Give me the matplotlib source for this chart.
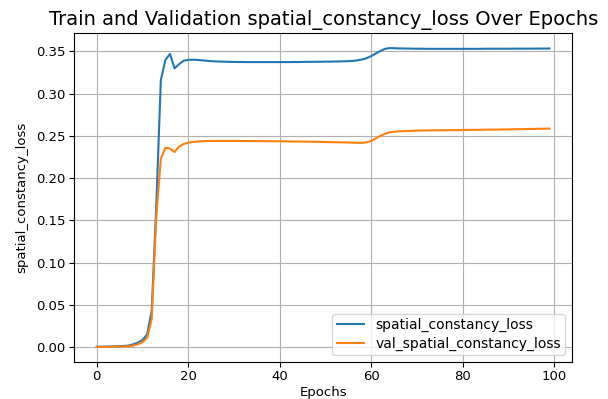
import numpy as np
import matplotlib
matplotlib.use("Agg")
import matplotlib.pyplot as plt

# valores, epoca 0..99
train_loss = [
    0.0005, 0.0006, 0.0007, 0.0008, 0.0010, 0.0012, 0.0015, 0.0020, 0.0035, 0.0055,
    0.0085, 0.0150, 0.0430, 0.1660, 0.3160, 0.3400, 0.3470, 0.3300, 0.3350, 0.3390,
    0.3400, 0.3402, 0.3400, 0.3395, 0.3390, 0.3385, 0.3382, 0.3380, 0.3378, 0.3377,
    0.3376, 0.3375, 0.3375, 0.3374, 0.3374, 0.3374, 0.3374, 0.3374, 0.3374, 0.3374,
    0.3374, 0.3374, 0.3374, 0.3375, 0.3375, 0.3376, 0.3377, 0.3377, 0.3378, 0.3378,
    0.3379, 0.3380, 0.3381, 0.3382, 0.3383, 0.3385, 0.3388, 0.3395, 0.3405, 0.3420,
    0.3445, 0.3475, 0.3505, 0.3530, 0.3540, 0.3538, 0.3536, 0.3535, 0.3534, 0.3533,
    0.3532, 0.3532, 0.3531, 0.3531, 0.3531, 0.3531, 0.3531, 0.3531, 0.3531, 0.3531,
    0.3531, 0.3531, 0.3531, 0.3531, 0.3531, 0.3532, 0.3532, 0.3532, 0.3532, 0.3532,
    0.3532, 0.3533, 0.3533, 0.3533, 0.3533, 0.3533, 0.3534, 0.3534, 0.3534, 0.3535,
]
val_loss = [
    0.0003, 0.0003, 0.0004, 0.0005, 0.0006, 0.0007, 0.0009, 0.0012, 0.0020, 0.0035,
    0.0060, 0.0110, 0.0330, 0.1540, 0.2230, 0.2360, 0.2350, 0.2310, 0.2375, 0.2405,
    0.2420, 0.2430, 0.2435, 0.2438, 0.2440, 0.2441, 0.2441, 0.2441, 0.2441, 0.2441,
    0.2441, 0.2441, 0.2440, 0.2440, 0.2440, 0.2439, 0.2439, 0.2438, 0.2438, 0.2437,
    0.2437, 0.2436, 0.2435, 0.2434, 0.2434, 0.2433, 0.2432, 0.2431, 0.2430, 0.2429,
    0.2428, 0.2427, 0.2426, 0.2425, 0.2424, 0.2422, 0.2420, 0.2418, 0.2418, 0.2425,
    0.2440, 0.2470, 0.2500, 0.2525, 0.2543, 0.2550, 0.2554, 0.2557, 0.2559, 0.2561,
    0.2563, 0.2564, 0.2565, 0.2566, 0.2567, 0.2567, 0.2568, 0.2568, 0.2569, 0.2569,
    0.2570, 0.2571, 0.2572, 0.2572, 0.2573, 0.2574, 0.2575, 0.2575, 0.2576, 0.2577,
    0.2578, 0.2579, 0.2580, 0.2581, 0.2582, 0.2583, 0.2584, 0.2585, 0.2586, 0.2587,
]
epochs = list(range(len(train_loss)))

fig = plt.figure(figsize=(6.08, 3.99), dpi=100)
ax = fig.add_axes([0.122, 0.093, 0.819, 0.824])
ax.plot(epochs, train_loss, label="spatial_constancy_loss")
ax.plot(epochs, val_loss, label="val_spatial_constancy_loss")
ax.set_title("Train and Validation spatial_constancy_loss Over Epochs", fontsize=14)
ax.set_xlabel("Epochs", fontsize=9.5, labelpad=2)
ax.set_ylabel("spatial_constancy_loss", fontsize=9.5, labelpad=6)
ax.tick_params(labelsize=9.5, pad=2.5)
ax.legend(loc="lower right", fontsize=10, labelspacing=0.3, borderpad=0.3)
ax.grid(True)
plt.savefig("out.png", dpi=100)
